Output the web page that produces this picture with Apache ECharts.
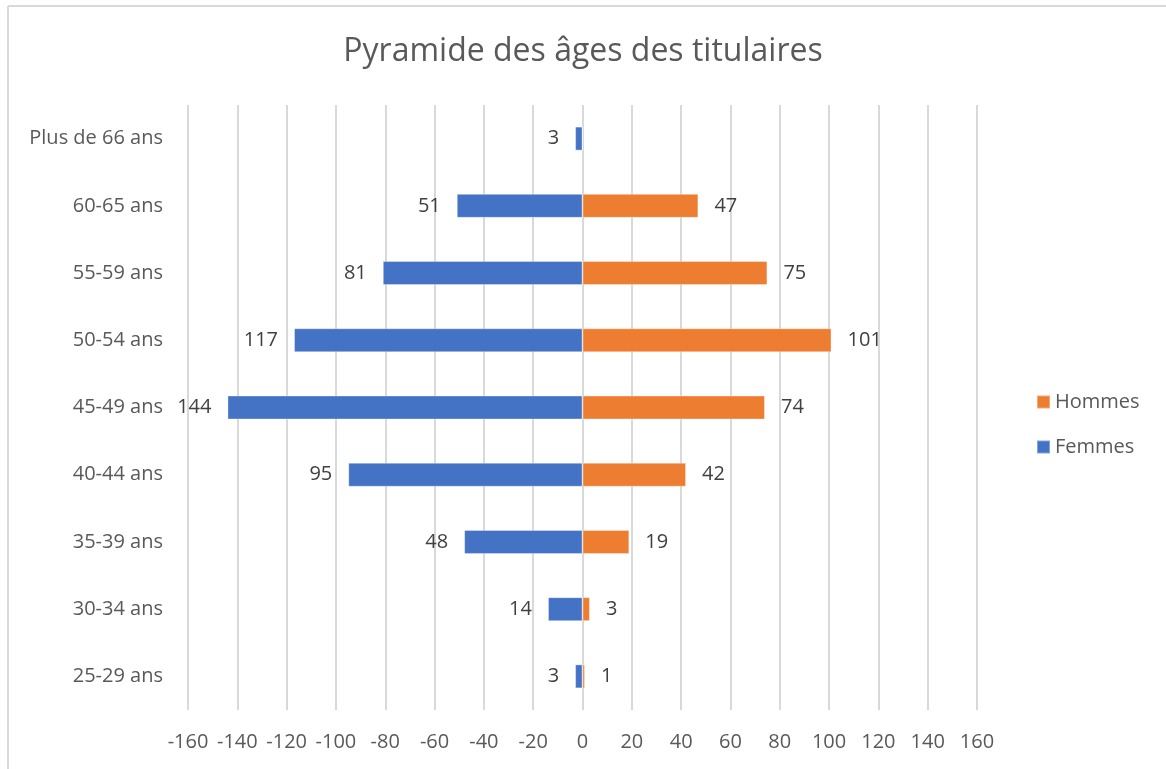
<!DOCTYPE html>
<html>
<head>
<meta charset="utf-8">
<script src="https://cdn.jsdelivr.net/npm/echarts@6/dist/echarts.min.js"></script>
<style>
  html, body { margin: 0; padding: 0; background: #fff; }
  #chart { width: 1166px; height: 769px; }
</style>
</head>
<body>
<div id="chart"></div>
<script>
// tranches d'âge, du bas vers le haut
var ageGroups = ['25-29 ans', '30-34 ans', '35-39 ans', '40-44 ans', '45-49 ans',
                 '50-54 ans', '55-59 ans', '60-65 ans', 'Plus de 66 ans'];
var femmes = [3, 14, 48, 95, 144, 117, 81, 51, 3];
var hommes = [1, 3, 19, 42, 74, 101, 75, 47, 0];
var xTicks = [-160, 160, 20]; // min, max, interval

var textColor = '#595959';
var labelColor = '#404040';
var font = '"Open Sans", sans-serif';

var chart = echarts.init(document.getElementById('chart'));

var option = {
    animation: false,
    title: {
        text: 'Pyramide des âges des titulaires',
        left: 'center',
        top: 31,
        textStyle: { color: textColor, fontSize: 32, fontWeight: 'normal', fontFamily: font }
    },
    legend: {
        orient: 'vertical',
        left: 1031,
        top: 387,
        itemWidth: 13,
        itemHeight: 13,
        itemGap: 25,
        icon: 'rect',
        data: ['Hommes', 'Femmes'],
        textStyle: { color: textColor, fontSize: 20, fontFamily: font }
    },
    grid: { left: 188, right: 189, top: 105, bottom: 59, containLabel: false },
    xAxis: {
        type: 'value',
        min: xTicks[0],
        max: xTicks[1],
        interval: xTicks[2],
        axisLine: { show: false },
        axisTick: { show: false },
        axisLabel: { color: textColor, fontSize: 20, fontFamily: font, margin: 22 },
        splitLine: { show: true, lineStyle: { color: '#d9d9d9', width: 2 } }
    },
    yAxis: {
        type: 'category',
        data: ageGroups,
        axisLine: { show: false },
        axisTick: { show: false },
        axisLabel: { color: textColor, fontSize: 20, fontFamily: font, margin: 25 }
    },
    graphic: [
        { type: 'line', shape: { x1: 8, y1: 6, x2: 1166, y2: 6 }, style: { stroke: '#d9d9d9', lineWidth: 2 } },
        { type: 'line', shape: { x1: 8, y1: 6, x2: 8, y2: 769 }, style: { stroke: '#d9d9d9', lineWidth: 2 } }
    ],
    series: [
        {
            name: 'Hommes',
            type: 'bar',
            stack: 'total',
            barWidth: 24,
            itemStyle: { color: '#ED7D31', borderColor: 'rgba(255,255,255,0.35)', borderWidth: 1 },
            label: {
                show: true,
                position: 'right',
                distance: 16,
                color: labelColor,
                fontSize: 20,
                fontFamily: font,
                formatter: function (p) { return p.value ? String(p.value) : ''; }
            },
            data: hommes
        },
        {
            name: 'Femmes',
            type: 'bar',
            stack: 'total',
            barWidth: 24,
            itemStyle: { color: '#4472C4', borderColor: 'rgba(255,255,255,0.35)', borderWidth: 1 },
            label: {
                show: true,
                position: 'left',
                distance: 16,
                color: labelColor,
                fontSize: 20,
                fontFamily: font,
                formatter: function (p) { return String(Math.abs(p.value)); }
            },
            data: femmes.map(function (v) { return -v; })
        }
    ]
};

chart.setOption(option);
</script>
</body>
</html>
